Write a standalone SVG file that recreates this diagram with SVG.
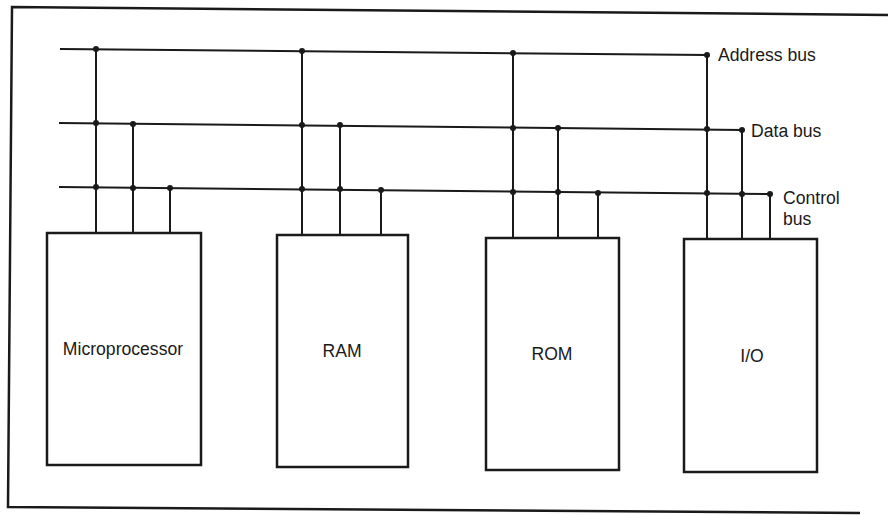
<svg xmlns="http://www.w3.org/2000/svg" width="888" height="515" viewBox="0 0 888 515">
<style>
.frame{fill:none;stroke:#1a1a1a;stroke-width:2.5}
.box{fill:none;stroke:#1a1a1a;stroke-width:2.5}
.bus{fill:none;stroke:#1a1a1a;stroke-width:2}
.dot{fill:#1a1a1a}
text{font-family:"Liberation Sans",Arial,sans-serif;font-size:17.6px;fill:#1a1a1a}
.mid{text-anchor:middle}
</style>
<rect width="888" height="515" fill="#ffffff"/>
<path class="frame" d="M888,15 L12,7 L8,507 L860,513"/>
<g id="connectors">
  <path class="bus" d="M60,49 L707,55 L707,239"/>
  <path class="bus" d="M59,123 L742,130 L742,239"/>
  <path class="bus" d="M59,187 L770,194 L770,239"/>
  <path class="bus" d="M96,49 V233 M133,123 V233 M170,188 V233"/>
  <path class="bus" d="M302,51 V235 M340,125 V235 M381,190 V235"/>
  <path class="bus" d="M513,53 V238 M558,128 V238 M598,193 V238"/>
  <g class="dot">
    <circle cx="96" cy="49" r="3"/><circle cx="302" cy="51" r="3"/><circle cx="513" cy="53" r="3"/><circle cx="707" cy="55" r="3"/>
    <circle cx="96" cy="123" r="3"/><circle cx="133" cy="124" r="3"/><circle cx="302" cy="125" r="3"/><circle cx="340" cy="125" r="3"/><circle cx="513" cy="128" r="3"/><circle cx="558" cy="128" r="3"/><circle cx="707" cy="129" r="3"/><circle cx="742" cy="130" r="3"/>
    <circle cx="96" cy="187" r="3"/><circle cx="133" cy="188" r="3"/><circle cx="170" cy="188" r="3"/><circle cx="302" cy="189" r="3"/><circle cx="340" cy="189" r="3"/><circle cx="381" cy="190" r="3"/><circle cx="513" cy="192" r="3"/><circle cx="558" cy="192" r="3"/><circle cx="598" cy="193" r="3"/><circle cx="707" cy="193" r="3"/><circle cx="742" cy="194" r="3"/><circle cx="770" cy="194" r="3"/>
  </g>
  <text x="718" y="61">Address bus</text>
  <text x="751" y="137">Data bus</text>
  <text x="783" y="204">Control</text>
  <text x="783" y="225">bus</text>
</g>
<g id="microprocessor">
  <rect class="box" x="47" y="233" width="154" height="232"/>
  <text class="mid" x="123" y="355">Microprocessor</text>
</g>
<g id="ram">
  <rect class="box" x="277" y="235" width="131" height="232"/>
  <text class="mid" x="342" y="357">RAM</text>
</g>
<g id="rom">
  <rect class="box" x="486" y="238" width="133" height="232"/>
  <text class="mid" x="552" y="360">ROM</text>
</g>
<g id="io">
  <rect class="box" x="684" y="239" width="133" height="233"/>
  <text class="mid" x="752" y="362">I/O</text>
</g>
</svg>
